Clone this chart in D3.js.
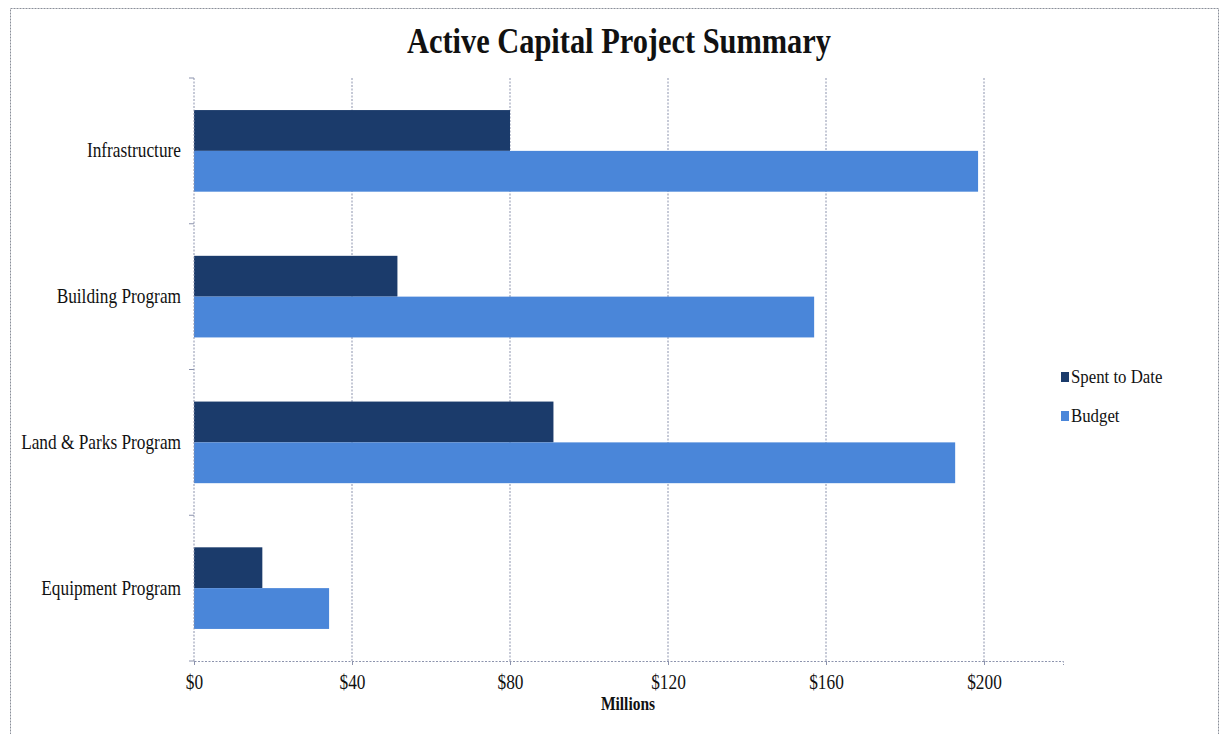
<!DOCTYPE html>
<html>
<head>
<meta charset="utf-8">
<script src="https://cdn.jsdelivr.net/npm/d3@7"></script>
<style>
  html, body { margin: 0; padding: 0; background: #fff; }
  svg { display: block; }
  text { font-family: "Liberation Serif", "Times New Roman", serif; fill: #111; }
</style>
</head>
<body>
<svg id="chart" width="1220" height="734"></svg>
<script>
// Program categories, top to bottom
const categories = ["Infrastructure", "Building Program", "Land & Parks Program", "Equipment Program"];
// Values in millions of dollars
const spentToDate = [80, 51.5, 91, 17.3];
const budget = [198.5, 157, 192.7, 34.2];
const seriesNames = ["Spent to Date", "Budget"];
const xTicks = [0, 40, 80, 120, 160, 200];

const colors = ["#1b3b6b", "#4a86d9"];
const gridColor = "#8c93ad";
const TALL = 1.16; // glyphs are drawn slightly taller than wide

const svg = d3.select("#chart");
const W = 1220, H = 734;
const margin = { left: 194, right: 1220 - 1063, top: 78, bottom: 734 - 661 };

// Place a text node at (px, py) with a vertical stretch
function place(sel, px, py) {
  sel.attr("x", 0).attr("y", 0)
    .attr("transform", `translate(${px},${py}) scale(1,${TALL})`);
}

// Outer frame
svg.append("rect")
  .attr("x", 10.5).attr("y", 8.5)
  .attr("width", 1208).attr("height", 730)
  .attr("fill", "none")
  .attr("stroke", "#8a8f99")
  .attr("stroke-width", 1)
  .attr("stroke-dasharray", "2,1");

const x = d3.scaleLinear().domain([0, 220]).range([margin.left, W - margin.right]);
const y = d3.scaleBand().domain(categories).range([margin.top, H - margin.bottom]).paddingInner(0.44).paddingOuter(0.22);
const ySub = d3.scaleBand().domain(seriesNames).range([0, y.bandwidth()]);

// Vertical gridlines
svg.append("g")
  .selectAll("line")
  .data(xTicks.slice(1))
  .join("line")
  .attr("x1", d => x(d)).attr("x2", d => x(d))
  .attr("y1", margin.top).attr("y2", H - margin.bottom)
  .attr("stroke", gridColor)
  .attr("stroke-width", 1)
  .attr("stroke-dasharray", "2,1.5");

// Bars
const rows = categories.map((c, i) => ({ cat: c, values: [spentToDate[i], budget[i]] }));
const groups = svg.append("g").selectAll("g")
  .data(rows)
  .join("g")
  .attr("transform", d => `translate(0,${y(d.cat)})`);

groups.selectAll("rect")
  .data(d => d.values.map((v, j) => ({ v, s: seriesNames[j], j })))
  .join("rect")
  .attr("x", x(0))
  .attr("y", d => ySub(d.s))
  .attr("width", d => x(d.v) - x(0))
  .attr("height", ySub.bandwidth())
  .attr("fill", d => colors[d.j]);

// X axis
const xAxis = d3.axisBottom(x)
  .tickValues(xTicks)
  .tickFormat(d => "$" + d)
  .tickSize(4)
  .tickPadding(8);
const gx = svg.append("g")
  .attr("transform", `translate(0,${H - margin.bottom})`)
  .call(xAxis);
gx.select(".domain").attr("stroke", gridColor).attr("stroke-dasharray", "2,1.5");
gx.selectAll(".tick line").attr("stroke", gridColor);
gx.selectAll(".tick text")
  .attr("font-family", "Liberation Serif, Times New Roman, serif")
  .attr("font-size", 17.3)
  .attr("fill", "#111")
  .attr("dy", null)
  .each(function () { place(d3.select(this), 0, 28); });

// Y axis: ticks sit on the category boundaries
const gy = svg.append("g").attr("transform", `translate(${margin.left},0)`);
gy.append("line")
  .attr("x1", 0).attr("x2", 0)
  .attr("y1", margin.top).attr("y2", H - margin.bottom)
  .attr("stroke", gridColor).attr("stroke-dasharray", "2,1.5");
const plotH = H - margin.top - margin.bottom;
gy.selectAll("line.tick")
  .data(d3.range(categories.length + 1))
  .join("line")
  .attr("class", "tick")
  .attr("x1", -5).attr("x2", 0)
  .attr("y1", i => margin.top + i * plotH / categories.length)
  .attr("y2", i => margin.top + i * plotH / categories.length)
  .attr("stroke", gridColor);
gy.selectAll("text")
  .data(categories)
  .join("text")
  .attr("text-anchor", "end")
  .attr("font-size", 17.3)
  .text(d => d)
  .each(function (d) { place(d3.select(this), -13, y(d) + y.bandwidth() / 2 + 6.5); });

// Title
place(svg.append("text")
  .attr("text-anchor", "middle")
  .attr("font-size", 30.4)
  .attr("font-weight", "bold")
  .text("Active Capital Project Summary"), 619, 53);

// Axis title
place(svg.append("text")
  .attr("text-anchor", "middle")
  .attr("font-size", 15.5)
  .attr("font-weight", "bold")
  .text("Millions"), 628, 710);

// Legend
const legend = svg.append("g").attr("transform", "translate(1061,377)");
const li = legend.selectAll("g")
  .data(seriesNames)
  .join("g")
  .attr("transform", (d, i) => `translate(0,${i * 39})`);
li.append("rect")
  .attr("x", 0).attr("y", -5)
  .attr("width", 8).attr("height", 10)
  .attr("fill", (d, i) => colors[i]);
li.append("text")
  .attr("font-size", 16.8)
  .text(d => d)
  .each(function () { place(d3.select(this), 10, 6); });
</script>
</body>
</html>
